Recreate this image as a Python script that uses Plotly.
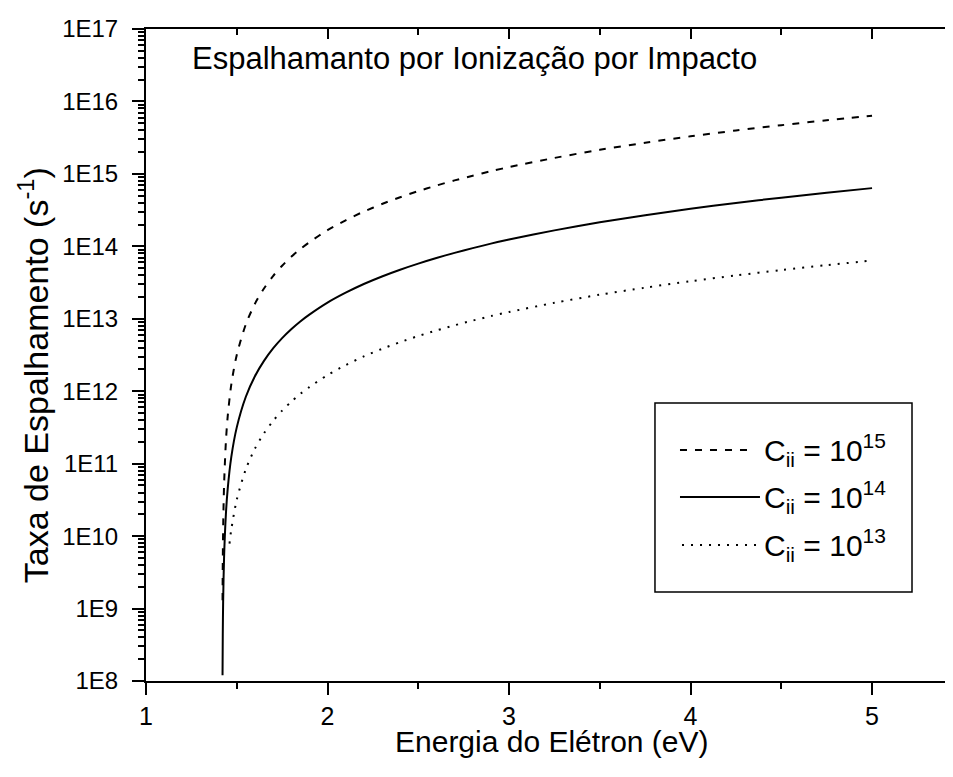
import plotly.graph_objects as go

# ---- data ----
energy_main = [1.4216, 1.423, 1.425, 1.43, 1.44, 1.45, 1.47, 1.50, 1.55, 1.60, 1.65, 1.70,
               1.75, 1.80, 1.85, 1.90, 2.00, 2.10, 2.20, 2.30, 2.40, 2.50, 2.60, 2.70,
               2.80, 2.90, 3.00, 3.25, 3.50, 3.75, 4.00, 4.25, 4.50, 4.75, 5.00]
rate_c15 = [1.3e9, 4.5e9, 1.24e10, 4.96e10, 1.98e11, 4.46e11, 1.24e12, 3.17e12, 8.38e12,
            1.61e13, 2.62e13, 3.89e13, 5.40e13, 7.16e13, 9.17e13, 1.14e14, 1.67e14,
            2.29e14, 3.02e14, 3.84e14, 4.76e14, 5.78e14, 6.90e14, 8.13e14, 9.44e14,
            1.09e15, 1.24e15, 1.66e15, 2.15e15, 2.69e15, 3.30e15, 3.97e15, 4.70e15,
            5.50e15, 6.36e15]
rate_c14 = [1.2e8, 4.5e8, 1.24e9, 4.96e9, 1.98e10, 4.46e10, 1.24e11, 3.17e11, 8.38e11,
            1.61e12, 2.62e12, 3.89e12, 5.40e12, 7.16e12, 9.17e12, 1.14e13, 1.67e13,
            2.29e13, 3.02e13, 3.84e13, 4.76e13, 5.78e13, 6.90e13, 8.13e13, 9.44e13,
            1.09e14, 1.24e14, 1.66e14, 2.15e14, 2.69e14, 3.30e14, 3.97e14, 4.70e14,
            5.50e14, 6.36e14]
energy_c13 = [1.46, 1.47, 1.50, 1.55, 1.60, 1.65, 1.70, 1.75, 1.80, 1.85, 1.90, 2.00, 2.10,
              2.20, 2.30, 2.40, 2.50, 2.60, 2.70, 2.80, 2.90, 3.00, 3.25, 3.50, 3.75,
              4.00, 4.25, 4.50, 4.75, 5.00]
rate_c13 = [7.9e9, 1.24e10, 3.17e10, 8.38e10, 1.61e11, 2.62e11, 3.89e11, 5.40e11, 7.16e11,
            9.17e11, 1.14e12, 1.67e12, 2.29e12, 3.02e12, 3.84e12, 4.76e12, 5.78e12,
            6.90e12, 8.13e12, 9.44e12, 1.09e13, 1.24e13, 1.66e13, 2.15e13, 2.69e13,
            3.30e13, 3.97e13, 4.70e13, 5.50e13, 6.36e13]

y_tickvals = [1e8, 1e9, 1e10, 1e11, 1e12, 1e13, 1e14, 1e15, 1e16, 1e17]
y_ticktext = ["1E8", "1E9", "1E10", "1E11", "1E12", "1E13", "1E14", "1E15", "1E16", "1E17"]
legend_labels = ["C<sub>ii</sub> = 10<sup>15</sup>",
                 "C<sub>ii</sub> = 10<sup>14</sup>",
                 "C<sub>ii</sub> = 10<sup>13</sup>"]
title_text = "Espalhamanto por Ionização por Impacto"
x_title = "Energia do Elétron (eV)"
y_title = "Taxa de Espalhamento (s<sup>-1</sup>)"

FONT = "Liberation Sans, Arial, sans-serif"
X_RANGE = [1, 5.446]

fig = go.Figure()
fig.add_trace(go.Scatter(x=energy_main, y=rate_c15, mode="lines",
                         line=dict(color="black", width=2, dash="7px,8px",
                                   shape="spline", smoothing=0.8),
                         showlegend=False, hoverinfo="skip"))
fig.add_trace(go.Scatter(x=energy_main, y=rate_c14, mode="lines",
                         line=dict(color="black", width=2, shape="spline", smoothing=0.8),
                         showlegend=False, hoverinfo="skip"))
fig.add_trace(go.Scatter(x=energy_c13, y=rate_c13, mode="lines", xaxis="x2",
                         line=dict(color="black", width=2, dash="2px,7px",
                                   shape="spline", smoothing=0.8),
                         showlegend=False, hoverinfo="skip"))

# the page body adds an 8px offset, so the figure is 8px smaller than the window
fig.update_layout(
    width=945, height=769, autosize=False,
    margin=dict(l=138, r=0, t=21, b=96),
    paper_bgcolor="white", plot_bgcolor="white",
    font=dict(family=FONT, color="black"),
    showlegend=False,
    xaxis=dict(range=X_RANGE, dtick=1, tick0=1, showgrid=False, zeroline=False,
               showline=True, linecolor="black", linewidth=2,
               ticks="outside", ticklen=12, tickwidth=2, tickcolor="black",
               minor=dict(dtick=0.5, ticks="outside", ticklen=6, tickwidth=1.5,
                          tickcolor="black", showgrid=False),
               tickfont=dict(size=25, family=FONT), ticklabelstandoff=0),
    xaxis2=dict(range=X_RANGE, overlaying="x", side="top", anchor="y",
                dtick=1, tick0=1, showgrid=False, zeroline=False,
                showline=True, linecolor="black", linewidth=2,
                ticks="inside", ticklen=10, tickwidth=2, tickcolor="black",
                minor=dict(dtick=0.5, ticks="inside", ticklen=6, tickwidth=1.5,
                           tickcolor="black", showgrid=False),
                showticklabels=False),
    yaxis=dict(type="log", range=[8, 17], tickvals=y_tickvals, ticktext=y_ticktext,
               showgrid=False, zeroline=False,
               showline=True, linecolor="black", linewidth=2,
               ticks="outside", ticklen=12, tickwidth=2, tickcolor="black",
               minor=dict(dtick="D1", ticks="outside", ticklen=6, tickwidth=1.5,
                          tickcolor="black", showgrid=False),
               tickfont=dict(size=24, family=FONT), ticklabelstandoff=9),
)

# titles
fig.add_annotation(text=title_text, xref="paper", yref="paper", x=0.0545, y=0.9548,
                   xanchor="left", yanchor="middle", showarrow=False,
                   font=dict(size=31, family=FONT))
fig.add_annotation(text=x_title, xref="paper", yref="paper", x=0.503, y=-0.0935,
                   xanchor="center", yanchor="middle", showarrow=False,
                   font=dict(size=30, family=FONT))
fig.add_annotation(text=y_title, xref="paper", yref="paper", x=-0.14, y=0.469,
                   xanchor="center", yanchor="middle", showarrow=False, textangle=-90,
                   font=dict(size=34, family=FONT))

# legend box drawn by hand (long line samples like the original)
fig.add_shape(type="rect", xref="paper", yref="paper", x0=0.6307, x1=0.9492,
              y0=0.1365, y1=0.4264, line=dict(color="black", width=1.5),
              fillcolor="white", layer="above")
legend_rows = [(0.3543, "7px,8px", 0.6617, 0.7509),
               (0.2822, "solid", 0.6617, 0.7608),
               (0.2086, "2px,7px", 0.6642, 0.7608)]
for (yy, dash, xa, xb), label in zip(legend_rows, legend_labels):
    fig.add_shape(type="line", xref="paper", yref="paper", x0=xa, x1=xb, y0=yy, y1=yy,
                  line=dict(color="black", width=2, dash=dash), layer="above")
    fig.add_annotation(text=label, xref="paper", yref="paper", x=0.7633, y=yy,
                       xanchor="left", yanchor="middle", showarrow=False,
                       font=dict(size=30, family=FONT))

fig.write_html("out.html")
